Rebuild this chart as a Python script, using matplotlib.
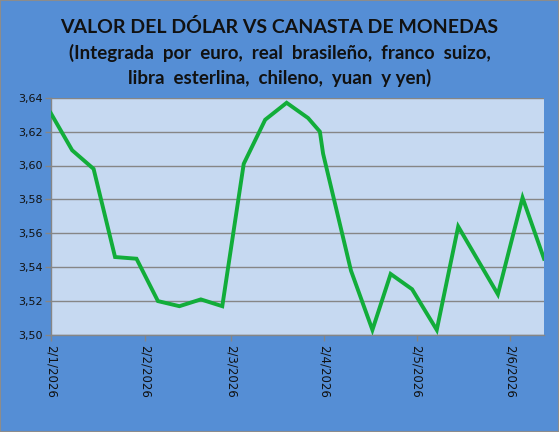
import matplotlib
matplotlib.use("Agg")
import matplotlib.pyplot as plt
from matplotlib.patches import Rectangle

# ---- data ----
x_pos = [0, 1, 2, 3, 4, 5, 6, 7, 8, 9, 10, 11, 12, 12.55, 12.7,
         14, 15, 15.85, 16.85, 18, 19, 20.85, 22, 23]
values = [3.631, 3.609, 3.598, 3.546, 3.545, 3.520, 3.517, 3.521, 3.517,
          3.601, 3.627, 3.637, 3.628, 3.620, 3.607,
          3.538, 3.503, 3.536, 3.527, 3.503, 3.564, 3.524, 3.581, 3.545]
tick_pos = [0, 4.41, 8.39, 12.76, 17.06, 21.41]
tick_labels = ["2/1/2026", "2/2/2026", "2/3/2026", "2/4/2026", "2/5/2026", "2/6/2026"]
y_ticks = [3.50, 3.52, 3.54, 3.56, 3.58, 3.60, 3.62, 3.64]

title1 = "VALOR DEL DÓLAR VS CANASTA DE MONEDAS"
title2 = "(Integrada  por  euro,  real  brasileño,  franco  suizo,"
title3 = "libra  esterlina,  chileno,  yuan  y yen)"

BG = "#558ED5"
PLOT_BG = "#C6D9F1"
GRID = "#868686"
LINE = "#12AD3A"

fig = plt.figure(figsize=(5.59, 4.32), dpi=100, facecolor=BG)
fig.patches.append(Rectangle((0, 0), 1, 1, transform=fig.transFigure,
                             fill=False, edgecolor="#8C8C8C", linewidth=1.5))

ax = fig.add_axes([50.7 / 559, 1 - 335 / 432, (544 - 50.7) / 559, (335 - 97.7) / 432])
ax.set_facecolor(PLOT_BG)
ax.plot(x_pos, values, color=LINE, linewidth=2.8, solid_joinstyle="miter", zorder=3)

ax.set_xlim(0, 23)
ax.set_ylim(3.50, 3.64)
ax.set_yticks(y_ticks)
ax.set_yticklabels([f"{v:.2f}".replace(".", ",") for v in y_ticks],
                   fontsize=8, family="DejaVu Sans", color="#111111")
ax.set_xticks(tick_pos)
ax.set_xticklabels(tick_labels, rotation=270, fontsize=8.5,
                   family="DejaVu Sans", color="#111111")
ax.yaxis.grid(True, color=GRID, linewidth=1.0)
ax.set_axisbelow(True)
ax.tick_params(axis="both", length=4, color=GRID, width=1)
ax.tick_params(axis="y", pad=2)
ax.tick_params(axis="x", pad=3)
for s in ["top", "right"]:
    ax.spines[s].set_visible(False)
for s in ["left", "bottom"]:
    ax.spines[s].set_color(GRID)
    ax.spines[s].set_linewidth(1.0)

tfam = ["Lato", "DejaVu Sans"]
fig.text(0.5, 1 - 27 / 432, title1, ha="center", va="center", fontsize=14,
         fontweight="bold", family=tfam, color="#111111")
fig.text(0.5, 1 - 53 / 432, title2, ha="center", va="center", fontsize=13.5,
         fontweight="bold", family=tfam, color="#111111")
fig.text(0.5, 1 - 78 / 432, title3, ha="center", va="center", fontsize=13.5,
         fontweight="bold", family=tfam, color="#111111")

fig.savefig("out.png", dpi=100, facecolor=BG)
